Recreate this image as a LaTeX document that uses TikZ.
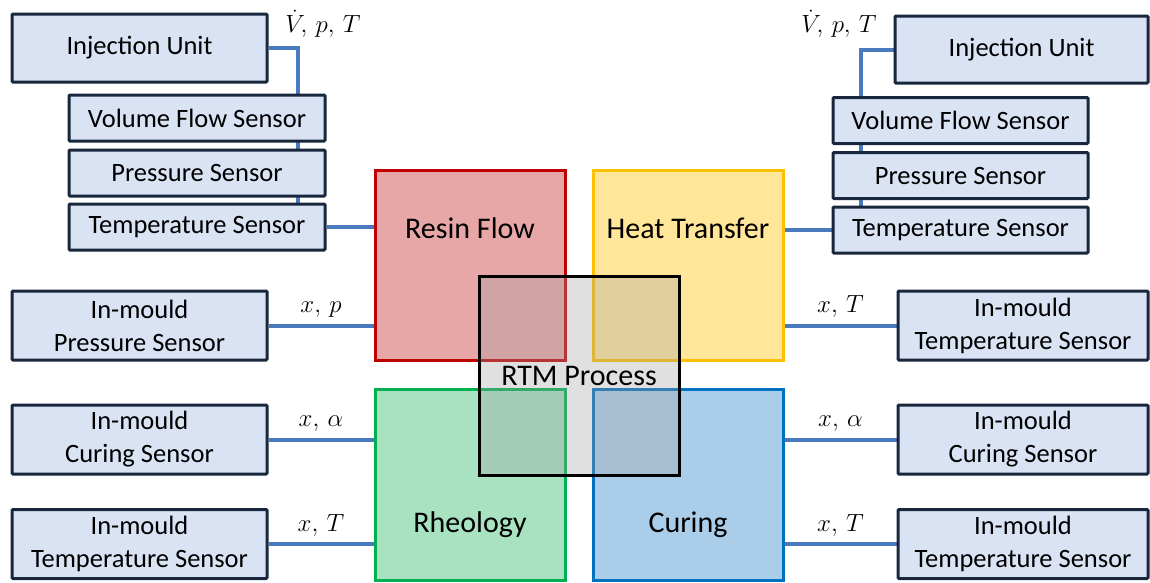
\documentclass[tikz,border=0pt]{standalone}
\usepackage{fontspec}
\setmainfont{Carlito}
\usetikzlibrary{positioning,backgrounds}

\definecolor{boxfill}{RGB}{218,227,243}
\definecolor{boxline}{RGB}{24,38,62}
\definecolor{wireblue}{RGB}{74,122,190}
\definecolor{resinfill}{RGB}{232,167,167}
\definecolor{resinline}{RGB}{192,0,0}
\definecolor{heatfill}{RGB}{255,230,153}
\definecolor{heatline}{RGB}{255,192,0}
\definecolor{rheofill}{RGB}{168,226,193}
\definecolor{rheoline}{RGB}{0,176,80}
\definecolor{curefill}{RGB}{170,205,233}
\definecolor{cureline}{RGB}{0,112,192}
\definecolor{rtmfill}{RGB}{160,160,160}

\begin{document}
\begin{tikzpicture}[
x=1pt, y=-1pt,
sensor/.style={
  draw=boxline,
  fill=boxfill,
  line width=3pt,
  rounded corners=1pt,
  minimum width=256pt,
  minimum height=46pt,
  inner sep=0pt,
  align=center,
  font=\fontsize{26.5}{33}\selectfont
  },
phys/.style={
  line width=3pt,
  minimum width=190pt,
  minimum height=190pt,
  inner sep=0pt,
  label distance=0pt
  },
physlbl/.style={
  anchor=center,
  font=\fontsize{30}{36}\selectfont
  },
wire/.style={
  draw=wireblue,
  line width=4pt
  },
qty/.style={
  font=\fontsize{30}{34}\selectfont,
  inner sep=3pt
  }
]
\useasboundingbox (0,0) rectangle (1150,582);

% physics squares
\node[phys, fill=resinfill, draw=resinline,
  label={[physlbl,yshift=-60pt]north:Resin Flow}] (resin) at (470,265) {};
\node[phys, fill=heatfill, draw=heatline,
  label={[physlbl,yshift=-60pt]north:Heat Transfer}] (heat) at (688,265) {};
\node[phys, fill=rheofill, draw=rheoline, minimum height=191pt,
  label={[physlbl,yshift=57pt]south:Rheology}] (rheo) at (470,484.5) {};
\node[phys, fill=curefill, draw=cureline, minimum height=191pt,
  label={[physlbl,yshift=57pt]south:Curing}] (curing) at (688,484.5) {};

\node[draw=black, line width=3pt, fill=rtmfill, fill opacity=0.32, text opacity=1,
  minimum width=200pt, minimum height=199pt, font=\fontsize{30}{36}\selectfont] (rtm) at (579,375.5) {RTM Process};

% injection side, left
\node[sensor, minimum width=255pt, minimum height=68pt] (injL) at (139.5,48) {Injection Unit};
\node[sensor] (vfL) at (197,118) {Volume Flow Sensor};
\node[sensor] (prL) at (197,173) {Pressure Sensor};
\node[sensor] (teL) at (197,227) {Temperature Sensor};

% injection side, right
\node[sensor, minimum width=253pt, minimum height=67pt] (injR) at (1021.5,49.5) {Injection Unit};
\node[sensor, minimum width=255pt] (vfR) at (960.5,120.5) {Volume Flow Sensor};
\node[sensor, minimum width=255pt] (prR) at (960.5,175.5) {Pressure Sensor};
\node[sensor, minimum width=255pt] (teR) at (960.5,230) {Temperature Sensor};

% in-mould sensors
\foreach \nm/\yy/\txt in {impL/325.5/Pressure, imcL/439.5/Curing, imtL/544/Temperature}
  \node[sensor, minimum width=255pt, minimum height=69pt] (\nm) at (139.5,\yy) {In-mould\\\txt{} Sensor};
\foreach \nm/\yy/\txt in {imtRa/325.5/Temperature, imcR/439.5/Curing, imtRb/544/Temperature}
  \node[sensor, minimum width=250pt, minimum height=69pt] (\nm) at (1023,\yy) {In-mould\\\txt{} Sensor};

\node[qty] (injLq) at (323,24) {$\dot{V}\!,\, p,\, T$};
\node[qty] (injRq) at (839,24) {$\dot{V}\!,\, p,\, T$};

\begin{scope}[on background layer]
\draw[wire] (injL.east) -| ([xshift=101pt]teL.north);
\draw[wire] (injR.west) -| ([xshift=-99.5pt]teR.north);
\draw[wire] (teL.east) -- (teL.east -| resin.west);
\draw[wire] (heat.east |- teR.west) -- (teR.west);

\foreach \src/\dst/\lbl in {impL/resin/{$x,\, p$}, imcL/rheo/{$x,\, \alpha$}, imtL/rheo/{$x,\, T$}}
  \draw[wire] (\src.east) -- node[qty, above, yshift=3pt] {\lbl} (\src.east -| \dst.west);
\foreach \src/\dst/\lbl in {imtRa/heat/{$x,\, T$}, imcR/curing/{$x,\, \alpha$}, imtRb/curing/{$x,\, T$}}
  \draw[wire] (\src.east -| \dst.east) -- node[qty, above, yshift=3pt] {\lbl} (\src.west);
\end{scope}
\end{tikzpicture}
\end{document}
